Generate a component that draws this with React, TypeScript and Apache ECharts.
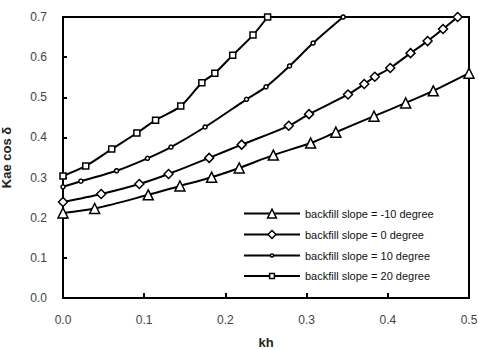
import React, { useEffect, useRef } from "react";
import * as echarts from "echarts";

const seriesNames = [
  "backfill slope = -10 degree",
  "backfill slope = 0 degree",
  "backfill slope = 10 degree",
  "backfill slope = 20 degree",
];

const khMinus10 = [0, 0.039, 0.105, 0.144, 0.183, 0.217, 0.259, 0.305, 0.336, 0.383, 0.422, 0.456, 0.5];
const kaeMinus10 = [0.212, 0.223, 0.257, 0.279, 0.301, 0.324, 0.356, 0.386, 0.413, 0.453, 0.486, 0.516, 0.56];

const kh0 = [0, 0.047, 0.094, 0.13, 0.18, 0.22, 0.278, 0.303, 0.351, 0.371, 0.384, 0.403, 0.428, 0.449, 0.468, 0.486];
const kae0 = [0.239, 0.259, 0.284, 0.309, 0.349, 0.382, 0.429, 0.458, 0.507, 0.533, 0.551, 0.573, 0.61, 0.64, 0.67, 0.7];

const kh10 = [0, 0.022, 0.066, 0.104, 0.133, 0.175, 0.226, 0.25, 0.279, 0.308, 0.345];
const kae10 = [0.277, 0.291, 0.317, 0.348, 0.376, 0.426, 0.495, 0.526, 0.578, 0.635, 0.7];

const kh20 = [0, 0.028, 0.06, 0.091, 0.114, 0.145, 0.171, 0.187, 0.209, 0.234, 0.252];
const kae20 = [0.304, 0.329, 0.371, 0.411, 0.443, 0.478, 0.536, 0.56, 0.605, 0.655, 0.7];

const zip = (xs: number[], ys: number[]) => xs.map((x, i) => [x, ys[i]]);

export default function App() {
  const ref = useRef<HTMLDivElement>(null);
  useEffect(() => {
    if (!ref.current) return;
    const chart = echarts.init(ref.current, null, { renderer: "svg" });
    const font = "Liberation Sans";
    const mk = (name: string, data: number[][], symbol: string, size: number) => ({
      name,
      type: "line",
      data,
      smooth: 0.3,
      symbol,
      symbolSize: size,
      showAllSymbol: true,
      lineStyle: { color: "#000", width: 2 },
      itemStyle: { color: "#fff", borderColor: "#000", borderWidth: 1.5 },
      clip: false,
      z: 3,
    });
    const legendRowCenters = [213, 234, 255, 275.5];
    const legendIconHeights = [11, 10, 4, 6];
    const legends = seriesNames.map((name, i) => ({
      orient: "vertical",
      left: 238,
      top: legendRowCenters[i] - 10,
      padding: 5,
      itemWidth: 56,
      itemHeight: legendIconHeights[i],
      data: [name],
      selectedMode: false,
      itemStyle: { color: "#fff", borderColor: "#000", borderWidth: 1.5 },
      lineStyle: { color: "#000", width: 2 },
      textStyle: { fontFamily: font, fontSize: 11, color: "#111" },
    }));
    chart.setOption({
      animation: false,
      backgroundColor: "#fff",
      grid: {
        left: 63,
        right: 9,
        top: 17,
        bottom: 52,
        show: true,
        borderColor: "#000",
        borderWidth: 2,
        backgroundColor: "transparent",
        containLabel: false,
        outerBoundsMode: "none",
      },
      legend: legends,
      xAxis: {
        type: "value",
        min: 0,
        max: 0.5,
        interval: 0.1,
        name: "kh",
        nameLocation: "middle",
        nameGap: 38,
        nameTextStyle: { fontFamily: font, fontSize: 13, fontWeight: "bold", color: "#222" },
        axisLine: { show: true, lineStyle: { color: "#000", width: 2 } },
        axisTick: { show: true, inside: true, length: 5, lineStyle: { color: "#000", width: 2 } },
        splitLine: { show: false },
        axisLabel: {
          fontFamily: font,
          fontSize: 12,
          color: "#444",
          margin: 16,
          formatter: (v: number) => v.toFixed(1),
        },
      },
      yAxis: {
        type: "value",
        min: 0,
        max: 0.7,
        interval: 0.1,
        name: "Kae cos δ",
        nameLocation: "middle",
        nameGap: 50,
        nameRotate: 90,
        nameTextStyle: { fontFamily: font, fontSize: 13, fontWeight: "bold", color: "#222" },
        axisLine: { show: true, lineStyle: { color: "#000", width: 2 } },
        axisTick: { show: true, inside: true, length: 4, lineStyle: { color: "#000", width: 2 } },
        splitLine: { show: false },
        axisLabel: {
          fontFamily: font,
          fontSize: 12,
          color: "#444",
          margin: 16,
          formatter: (v: number) => v.toFixed(1),
        },
      },
      series: [
        mk(seriesNames[0], zip(khMinus10, kaeMinus10), "triangle", 10),
        mk(seriesNames[1], zip(kh0, kae0), "diamond", 9),
        mk(seriesNames[2], zip(kh10, kae10), "circle", 4),
        mk(seriesNames[3], zip(kh20, kae20), "rect", 6),
      ],
    });
    return () => chart.dispose();
  }, []);
  return (
    <div
      ref={ref}
      style={{ position: "fixed", left: 0, top: 0, width: 478, height: 350, background: "#fff" }}
    />
  );
}
